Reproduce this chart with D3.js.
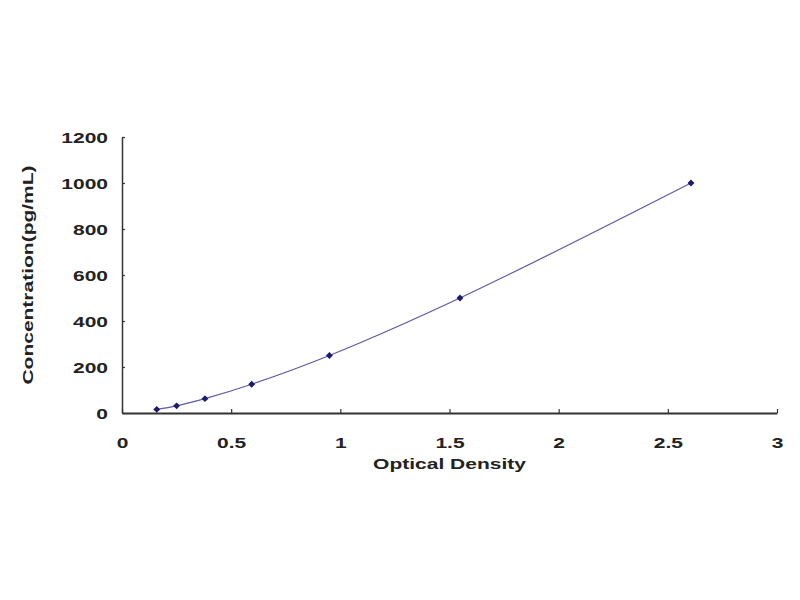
<!DOCTYPE html>
<html>
<head>
<meta charset="utf-8">
<script src="https://cdn.jsdelivr.net/npm/d3@7"></script>
<style>
  body { margin: 0; background: #fff; }
</style>
</head>
<body>
<div id="chart"></div>
<script>
// standard curve points
const opticalDensity = [0.159, 0.25, 0.38, 0.594, 0.95, 1.548, 2.606];
const concentration = [15.6, 31.25, 62.5, 125, 250, 500, 1000];
const xTicks = [0, 0.5, 1, 1.5, 2, 2.5, 3];
const yTicks = [0, 200, 400, 600, 800, 1000, 1200];

const width = 800;
const height = 600;
const margins = { top: 137, right: 23, bottom: 187, left: 122 };
const stretch = 1.4;

const data = opticalDensity.map((d, i) => ({ od: d, conc: concentration[i] }));

const svg = d3.select("#chart")
    .append("svg")
    .attr("width", width)
    .attr("height", height)
    .attr("style", "font-family: 'Liberation Sans', Arial, sans-serif; font-weight: bold;");

const x = d3.scaleLinear()
    .domain([0, 3])
    .range([margins.left, width - margins.right]);
const y = d3.scaleLinear()
    .domain([0, 1200])
    .range([height - margins.bottom, margins.top]);

// x axis, ticks pointing inward
const gx = svg.append("g")
    .attr("transform", `translate(0,${y(0)})`)
    .call(d3.axisBottom(x).tickValues(xTicks).tickFormat(d => String(d)).tickSizeInner(-4).tickSizeOuter(0));
gx.select(".domain").attr("stroke", "#333").attr("stroke-width", 2);
gx.selectAll(".tick line").attr("stroke", "#333").attr("stroke-width", 1.2);
gx.selectAll(".tick text")
    .attr("y", 0)
    .attr("dy", 0)
    .attr("transform", `translate(0,35) scale(${stretch},1)`)
    .attr("font-size", 15)
    .attr("font-weight", "bold")
    .attr("fill", "#222");

// y axis
const gy = svg.append("g")
    .attr("transform", `translate(${x(0)},0)`)
    .call(d3.axisLeft(y).tickValues(yTicks).tickFormat(d => String(d)).tickSizeInner(-3).tickSizeOuter(0));
gy.select(".domain").attr("stroke", "#333").attr("stroke-width", 1.5);
gy.selectAll(".tick line").attr("stroke", "#333").attr("stroke-width", 1.2);
gy.selectAll(".tick text")
    .attr("x", 0)
    .attr("dy", "0.35em")
    .attr("transform", `translate(-14,0) scale(${stretch},1)`)
    .attr("font-size", 15)
    .attr("font-weight", "bold")
    .attr("fill", "#222");

// axis titles
svg.append("text")
    .attr("transform", `translate(${(x(0) + x(3)) / 2},469) scale(${stretch},1)`)
    .attr("text-anchor", "middle")
    .attr("font-size", 15)
    .attr("fill", "#222")
    .text("Optical Density");

svg.append("text")
    .attr("transform", `translate(33,${(y(0) + y(1200)) / 2}) rotate(-90) scale(${stretch},1)`)
    .attr("text-anchor", "middle")
    .attr("font-size", 15)
    .attr("fill", "#222")
    .text("Concentration(pg/mL)");

// smooth fitted line
const line = d3.line()
    .x(d => x(d.od))
    .y(d => y(d.conc))
    .curve(d3.curveCatmullRom);

svg.append("path")
    .datum(data)
    .attr("d", line)
    .attr("fill", "none")
    .attr("stroke", "#5a5aa8")
    .attr("stroke-width", 1.2);

// diamond markers
svg.selectAll(".pt")
    .data(data)
    .join("path")
    .attr("class", "pt")
    .attr("d", d3.symbol(d3.symbolDiamond2, 30))
    .attr("transform", d => `translate(${x(d.od)},${y(d.conc)})`)
    .attr("fill", "#1a1a6e");
</script>
</body>
</html>
